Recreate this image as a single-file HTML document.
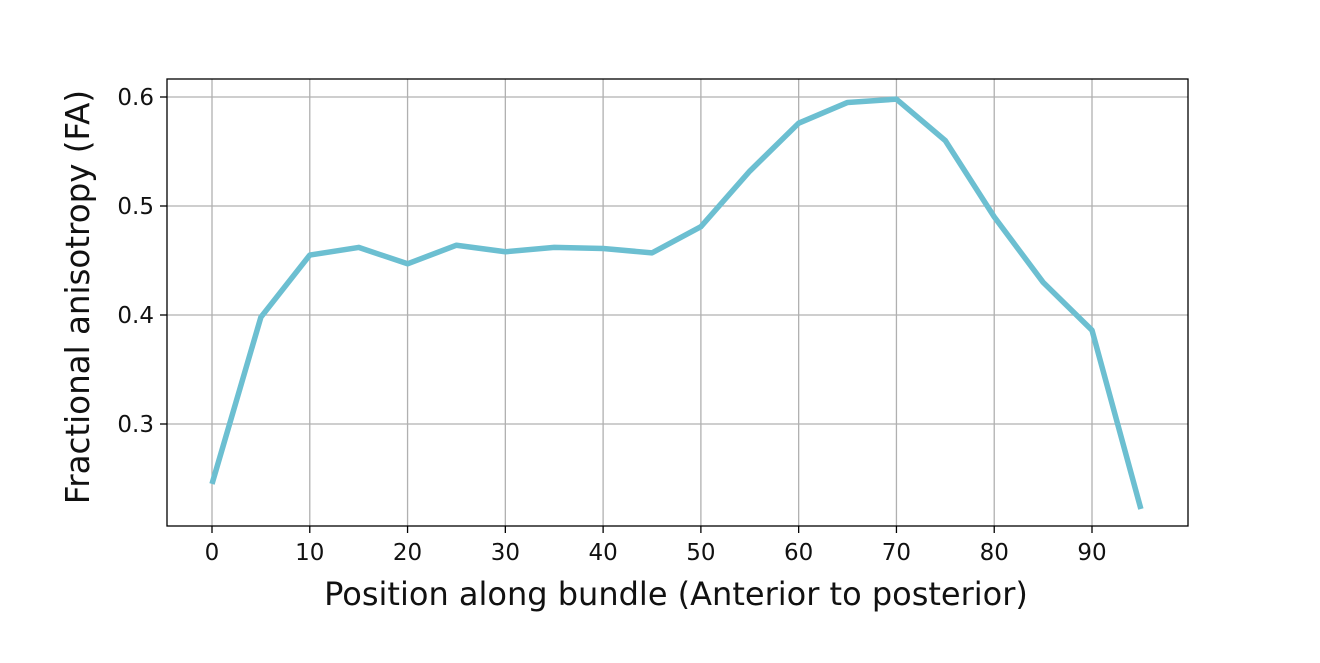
<!DOCTYPE html>
<html><head><meta charset="utf-8"><style>
body{margin:0;background:#fff;}
svg text{font-family:"DejaVu Sans","Liberation Sans",sans-serif;fill:#111;}
</style></head><body>
<svg id="chart" width="1320" height="658">
<g id="grid"></g>
<rect x="167" y="79" width="1021" height="447" fill="none" stroke="#000" stroke-width="1.3"/>
<g id="ticks"></g>
<path id="line" fill="none" stroke="#6cbfd1" stroke-width="5.5" stroke-linejoin="round"/>
<text x="676" y="605" font-size="32" text-anchor="middle">Position along bundle (Anterior to posterior)</text>
<text transform="translate(89,297) rotate(-90)" font-size="32.5" text-anchor="middle">Fractional anisotropy (FA)</text>
</svg>
<script>
const positions=[0,5,10,15,20,25,30,35,40,45,50,55,60,65,70,75,80,85,90,95];
const faValues=[0.245,0.398,0.455,0.462,0.447,0.464,0.458,0.462,0.461,0.457,0.481,0.532,0.576,0.595,0.598,0.560,0.490,0.430,0.386,0.222];
const xTicks=[0,10,20,30,40,50,60,70,80,90];
const yTicks=[0.3,0.4,0.5,0.6];
const xs=v=>212+v*(1092-212)/90;
const ys=v=>97+(0.6-v)*(424-97)/0.3;
const NS="http://www.w3.org/2000/svg";
const grid=document.getElementById('grid'),ticks=document.getElementById('ticks');
function mk(tag,attrs,parent){const e=document.createElementNS(NS,tag);for(const k in attrs)e.setAttribute(k,attrs[k]);parent.appendChild(e);return e;}
xTicks.forEach(t=>{const x=xs(t);
 const g=mk('line',{x1:x,x2:x,y1:79,y2:526,stroke:'#b0b0b0','stroke-width':1.3},grid);
 
 
 const tk=mk('line',{x1:x,x2:x,y1:526,y2:533,stroke:'#000','stroke-width':1.3},ticks);
 
 
 const lb=mk('text',{x:x,y:560,'font-size':23,'text-anchor':'middle'},ticks);lb.textContent=t;
 
 
});
yTicks.forEach(t=>{const y=ys(t);
 const g=mk('line',{x1:167,x2:1188,y1:y,y2:y,stroke:'#b0b0b0','stroke-width':1.3},grid);
 
 
 const tk=mk('line',{x1:160,x2:167,y1:y,y2:y,stroke:'#000','stroke-width':1.3},ticks);
 
 
 const lb=mk('text',{x:154,y:y+8,'font-size':23,'text-anchor':'end'},ticks);lb.textContent=t.toFixed(1);
 
 
});
document.getElementById('line').setAttribute('d',positions.map((p,i)=>(i?'L':'M')+xs(p)+','+ys(faValues[i])).join(''));
</script>
</body></html>
